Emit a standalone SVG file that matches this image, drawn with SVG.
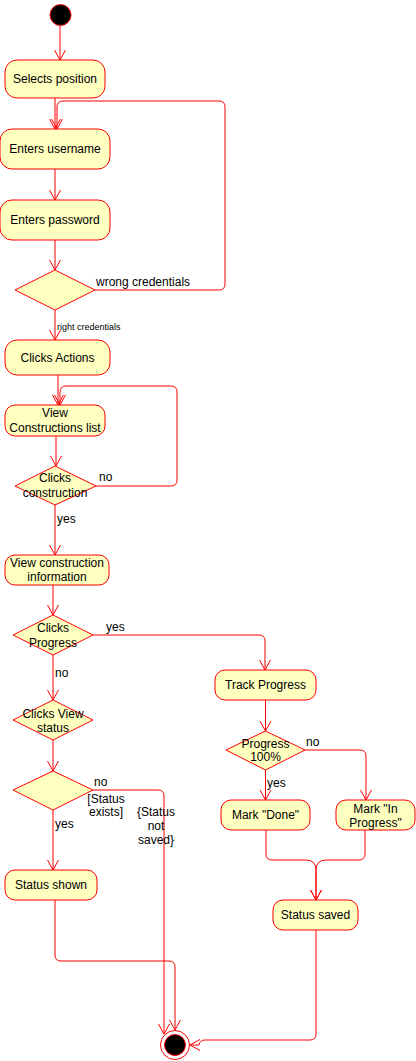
<svg xmlns="http://www.w3.org/2000/svg" width="416" height="1061" viewBox="0 0 416 1061">
<defs>
<marker id="arr" markerUnits="userSpaceOnUse" markerWidth="14" markerHeight="14" refX="10" refY="6" orient="auto" viewBox="0 0 14 12">
<path d="M0,0.5 L10,6 L0,11.5" fill="none" stroke="#FF0000" stroke-width="1"/>
</marker>
</defs>
<style>
.box{fill:#FFFFC0;stroke:#FF0000;stroke-width:1}
.t{font-family:"Liberation Sans",Arial,sans-serif;font-size:12px;fill:#000;text-anchor:middle}
.l{font-family:"Liberation Sans",Arial,sans-serif;font-size:12px;fill:#000}
.s{font-family:"Liberation Sans",Arial,sans-serif;font-size:9px;fill:#000}
.e{fill:none;stroke:#FF0000;stroke-width:1;marker-end:url(#arr)}
</style>
<g id="connectors">
<path class="e" d="M60,26 L60,60"/>
<path class="e" d="M55,98 L55,129"/>
<path class="e" d="M95,290 L219,290 Q225,290 225,284 L225,107 Q225,101 219,101 L63,101 Q57,101 57,107 L57,129"/>
<path class="e" d="M55,169 L55,200"/>
<path class="e" d="M55,240 L55,270"/>
<path class="e" d="M55,310 L55,340"/>
<path class="e" d="M58,375 L58,405"/>
<path class="e" d="M56,436 L56,466"/>
<path class="e" d="M96,486 L171,486 Q177,486 177,480 L177,392 Q177,386 171,386 L66,386 Q60,386 60,392 L60,405"/>
<path class="e" d="M55,505 L55,555"/>
<path class="e" d="M53,585 L53,615"/>
<path class="e" d="M93,635 L259,635 Q265,635 265,641 L265,670"/>
<path class="e" d="M53,655 L53,700"/>
<path class="e" d="M53,740 L53,771"/>
<path class="e" d="M53,810 L53,870"/>
<path class="e" d="M93,790 L158,790 Q164,790 164,796 L164,1034"/>
<path class="e" d="M55,900 L55,955 Q55,961 61,961 L169,961 Q175,961 175,967 L175,1030"/>
<path class="e" d="M265.5,700 L265.5,731"/>
<path class="e" d="M265.5,770 L265.5,800"/>
<path class="e" d="M305,750 L360,750 Q366,750 366,756 L366,800"/>
<path class="e" d="M266,830 L266,854 Q266,860 272,860 L306,860 Q316,860 316,870 L316,900"/>
<path class="e" d="M365,830 L365,854 Q365,860 359,860 L326,860 Q316,860 316,870 L316,900"/>
<path class="e" d="M316,930 L316,1034 Q316,1040 310,1040 L205,1040 Q200,1040 199,1045 L190,1045"/>
<text class="l" x="96" y="286">wrong credentials</text>
<text class="s" x="57" y="330">right credentials</text>
<text class="l" x="99" y="481">no</text>
<text class="l" x="57" y="523">yes</text>
<text class="l" x="106" y="631">yes</text>
<text class="l" x="55" y="677">no</text>
<text class="l" x="306" y="746">no</text>
<text class="l" x="267" y="787">yes</text>
<text class="l" x="94" y="786">no</text>
<text class="t" x="106" y="803">[Status</text>
<text class="t" x="106" y="816">exists]</text>
<text class="t" x="156" y="816">{Status</text>
<text class="t" x="156" y="830">not</text>
<text class="t" x="156" y="844">saved}</text>
<text class="l" x="55" y="828">yes</text>
</g>
<g id="start"><circle cx="60.5" cy="15" r="10.5" fill="#000" stroke="#FF0000" stroke-width="1"/></g>
<g id="selects-position"><rect class="box" x="5" y="60" width="100" height="38" rx="12"/><text class="t" x="55" y="83">Selects position</text></g>
<g id="enters-username"><rect class="box" x="0" y="129" width="110" height="40" rx="12"/><text class="t" x="55" y="153">Enters username</text></g>
<g id="enters-password"><rect class="box" x="0" y="200" width="110" height="40" rx="12"/><text class="t" x="55" y="224">Enters password</text></g>
<g id="credentials-decision"><polygon class="box" points="55,270 95,290 55,310 15,290"/></g>
<g id="clicks-actions"><rect class="box" x="5" y="340" width="105" height="35" rx="12"/><text class="t" x="57.5" y="362">Clicks Actions</text></g>
<g id="view-constructions-list"><rect class="box" x="5" y="405" width="100" height="31" rx="10"/><text class="t" x="55" y="417">View</text><text class="t" x="55" y="432">Constructions list</text></g>
<g id="clicks-construction"><polygon class="box" points="55,466 96,486 55,505 15,486"/><text class="t" x="55" y="482">Clicks</text><text class="t" x="55" y="497">construction</text></g>
<g id="view-construction-information"><rect class="box" x="5" y="555" width="104" height="30" rx="10"/><text class="t" x="57" y="567">View construction</text><text class="t" x="57" y="581">information</text></g>
<g id="clicks-progress"><polygon class="box" points="53,615 93,635 53,655 13,635"/><text class="t" x="53" y="632">Clicks</text><text class="t" x="53" y="647">Progress</text></g>
<g id="clicks-view-status"><polygon class="box" points="53,700 93,720 53,740 13,720"/><text class="t" x="53" y="718">Clicks View</text><text class="t" x="53" y="732">status</text></g>
<g id="status-decision"><polygon class="box" points="53,771 93,790 53,810 13,790"/></g>
<g id="status-shown"><rect class="box" x="5" y="870" width="92" height="30" rx="10"/><text class="t" x="51" y="889">Status shown</text></g>
<g id="track-progress"><rect class="box" x="215" y="670" width="101" height="30" rx="10"/><text class="t" x="265.5" y="689">Track Progress</text></g>
<g id="progress-100"><polygon class="box" points="265.5,731 305,750 265.5,770 226,750"/><text class="t" x="265.5" y="748">Progress</text><text class="t" x="265.5" y="761">100%</text></g>
<g id="mark-done"><rect class="box" x="221" y="800" width="89" height="30" rx="10"/><text class="t" x="265.5" y="819">Mark "Done"</text></g>
<g id="mark-in-progress"><rect class="box" x="336" y="800" width="79" height="30" rx="10"/><text class="t" x="375.5" y="813">Mark "In</text><text class="t" x="375.5" y="827">Progress"</text></g>
<g id="status-saved"><rect class="box" x="273" y="900" width="85" height="30" rx="10"/><text class="t" x="315.5" y="919">Status saved</text></g>
<g id="end"><circle cx="175" cy="1045" r="14.5" fill="#fff" stroke="#FF0000" stroke-width="1"/><circle cx="175" cy="1045" r="10.5" fill="#000" stroke="#FF0000" stroke-width="1"/></g>
</svg>
